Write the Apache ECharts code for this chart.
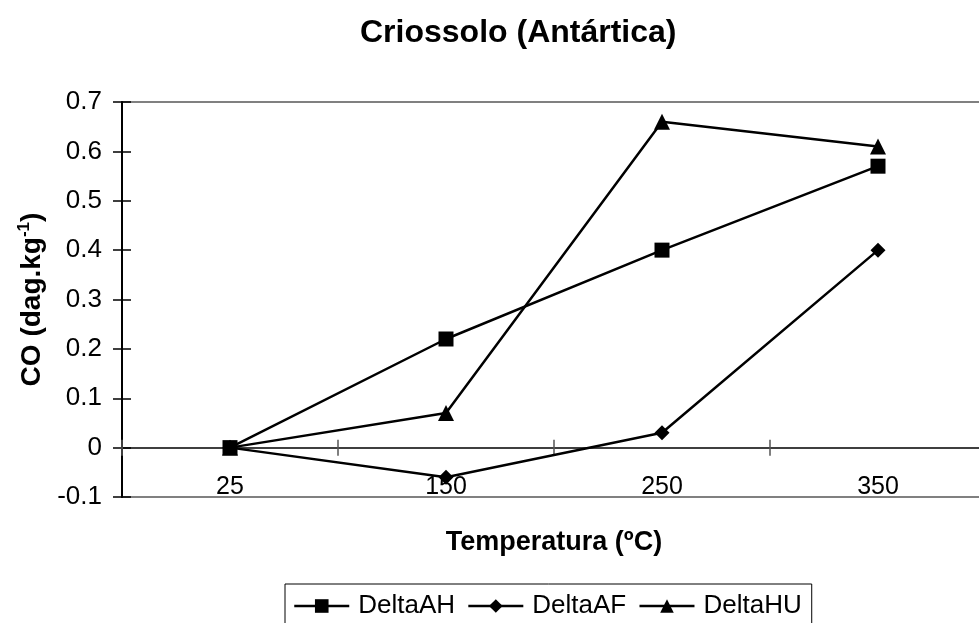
<!DOCTYPE html>
<html>
<head>
<meta charset="utf-8">
<title>Criossolo (Antártica)</title>
<script src="https://cdn.jsdelivr.net/npm/echarts@6/dist/echarts.min.js"></script>
<style>
  html, body { margin: 0; padding: 0; background: #fff; }
  #chart { width: 979px; height: 623px; }
</style>
</head>
<body>
<div id="chart"></div>
<script>
// data
var temperaturas = ['25', '150', '250', '350'];
var deltaAH = [0, 0.22, 0.40, 0.57];
var deltaAF = [0, -0.06, 0.03, 0.40];
var deltaHU = [0, 0.07, 0.66, 0.61];

var fonte = "'Liberation Sans', Arial, sans-serif";

var myChart = echarts.init(document.getElementById('chart'));

function serie(nome, dados, simbolo, tam) {
  return {
    name: nome,
    type: 'line',
    data: dados,
    symbol: simbolo,
    symbolSize: tam,
    color: '#000',
    lineStyle: { color: '#000', width: 2.5 },
    itemStyle: { color: '#000' },
    z: 5
  };
}

// the source chart is wider than the picture: plot runs past the right edge
var option = {
  animation: false,
  backgroundColor: '#fff',
  textStyle: { fontFamily: fonte },
  title: {
    text: 'Criossolo (Antártica)',
    left: 355,
    top: 12,
    textStyle: { fontFamily: fonte, fontSize: 32, fontWeight: 'bold', color: '#000' }
  },
  legend: {
    data: ['DeltaAH', 'DeltaAF', 'DeltaHU'],
    left: 285,
    top: 584,
    padding: [9, 10, 12, 8],
    borderColor: '#000',
    borderWidth: 1,
    itemWidth: 55,
    itemHeight: 17,
    itemGap: 12,
    lineStyle: { width: 2.5, color: '#000' },
    textStyle: { fontFamily: fonte, fontSize: 26, color: '#000', padding: [0, 0, 0, 4] }
  },
  grid: {
    left: 122,
    top: 102,
    width: 864,
    height: 395,
    outerBoundsMode: 'none',
    show: true,
    borderColor: '#808080',
    borderWidth: 2
  },
  xAxis: [{
    type: 'category',
    data: temperaturas,
    boundaryGap: true,
    name: 'Temperatura (ºC)',
    nameLocation: 'middle',
    nameGap: 32,
    nameTextStyle: { fontFamily: fonte, fontSize: 27, fontWeight: 'bold', color: '#000' },
    axisLine: { onZero: true, lineStyle: { color: '#000', width: 1.5 } },
    axisTick: { show: true, length: 8, interval: 0, lineStyle: { color: '#555', width: 1.5 } },
    axisLabel: { margin: -22, fontSize: 25, color: '#000', fontFamily: fonte },
    splitLine: { show: false }
  }, {
    // second copy only for the inner half of the crossing ticks
    type: 'category',
    data: temperaturas,
    position: 'bottom',
    boundaryGap: true,
    axisLine: { onZero: true, show: false },
    axisTick: { show: true, inside: true, length: 8, interval: 0, lineStyle: { color: '#555', width: 1.5 } },
    axisLabel: { show: false },
    splitLine: { show: false }
  }],
  yAxis: [{
    type: 'value',
    min: -0.1,
    max: 0.7,
    interval: 0.1,
    name: '{b|CO (dag.kg}{s|-1}{b|)}',
    nameLocation: 'middle',
    nameGap: 74,
    nameTextStyle: {
      rich: {
        b: { fontFamily: fonte, fontSize: 28, fontWeight: 'bold', color: '#000', lineHeight: 32 },
        s: { fontFamily: fonte, fontSize: 17, fontWeight: 'bold', color: '#000', verticalAlign: 'top', lineHeight: 32 }
      }
    },
    axisLine: { show: true, lineStyle: { color: '#000', width: 2 } },
    axisTick: { show: true, length: 9, lineStyle: { color: '#000', width: 1.5 } },
    axisLabel: {
      margin: 20,
      fontSize: 26,
      color: '#000',
      fontFamily: fonte,
      formatter: function (v) { return String(+v.toFixed(1)); }
    },
    splitLine: { show: false }
  }, {
    type: 'value',
    min: -0.1,
    max: 0.7,
    interval: 0.1,
    position: 'left',
    axisLine: { show: false },
    axisTick: { show: true, inside: true, length: 9, lineStyle: { color: '#000', width: 1.5 } },
    axisLabel: { show: false },
    splitLine: { show: false }
  }],
  series: [
    serie('DeltaAH', deltaAH, 'rect', 15),
    serie('DeltaAF', deltaAF, 'diamond', 15),
    serie('DeltaHU', deltaHU, 'triangle', 16)
  ]
};

myChart.setOption(option);
</script>
</body>
</html>
